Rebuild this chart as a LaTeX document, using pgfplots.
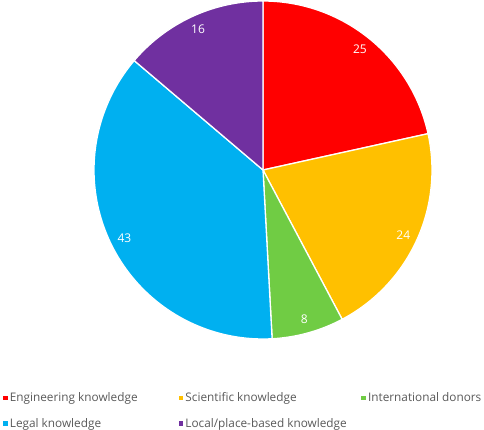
\documentclass[border=0pt]{standalone}
\usepackage{fontspec}
\setmainfont{Open Sans}
\usepackage{pgfplots}
\pgfplotsset{compat=1.18}

\definecolor{pred}{RGB}{255,0,0}
\definecolor{pyellow}{RGB}{255,192,0}
\definecolor{pgreen}{RGB}{112,204,68}
\definecolor{pblue}{RGB}{0,176,240}
\definecolor{ppurple}{RGB}{112,48,160}
\definecolor{legendgray}{RGB}{89,89,89}

\newcommand{\labelfont}{\fontsize{12}{14}\selectfont}
\def\total{116}

\begin{document}
\begin{tikzpicture}
\useasboundingbox (-263pt,-260pt) rectangle (221pt,170pt);
\begin{axis}[
    at={(0pt,0pt)}, anchor=origin,
    scale only axis,
    width=338pt, height=338pt,
    xmin=-1, xmax=1, ymin=-1, ymax=1,
    axis lines=none,
    clip=false,
    legend columns=3,
    legend cell align=left,
    legend image code/.code={\fill[#1, draw=none] (0pt,-2.3pt) rectangle (4.6pt,2.3pt);},
    legend style={
        draw=none, fill=none,
        at={(-0.269,-0.152)}, anchor=north west,
        inner sep=0pt,
        font=\fontsize{11.8}{14}\selectfont,
        text=legendgray,
        row sep=11pt,
        nodes={inner sep=2pt},
    },
    legend entries={
        \makebox[167pt][l]{Engineering knowledge},
        \makebox[174pt][l]{Scientific knowledge},
        International donors,
        Legal knowledge,
        {Local/place-based knowledge}},
]
\xdef\start{90}
\foreach \v/\c in {25/pred, 24/pyellow, 8/pgreen, 43/pblue, 16/ppurple} {
    \pgfmathsetmacro{\a}{\start}
    \pgfmathsetmacro{\b}{\start - 360*\v/\total}
    \pgfmathsetmacro{\m}{(\a+\b)/2}
    \pgfmathsetmacro{\lx}{0.915*cos(\m)}
    \pgfmathsetmacro{\ly}{0.915*sin(\m)}
    \edef\temp{%
        \noexpand\addplot[fill=\c, draw=white, line width=1.3pt, line join=round,
            domain=\b:\a, samples=90] ({cos(x)},{sin(x)}) -- (axis cs:0,0) -- cycle;
        \noexpand\node[text=white, font=\noexpand\labelfont] at (axis cs:\lx,\ly) {\v};
    }
    \temp
    \xdef\start{\b}
}
\end{axis}
\end{tikzpicture}
\end{document}
